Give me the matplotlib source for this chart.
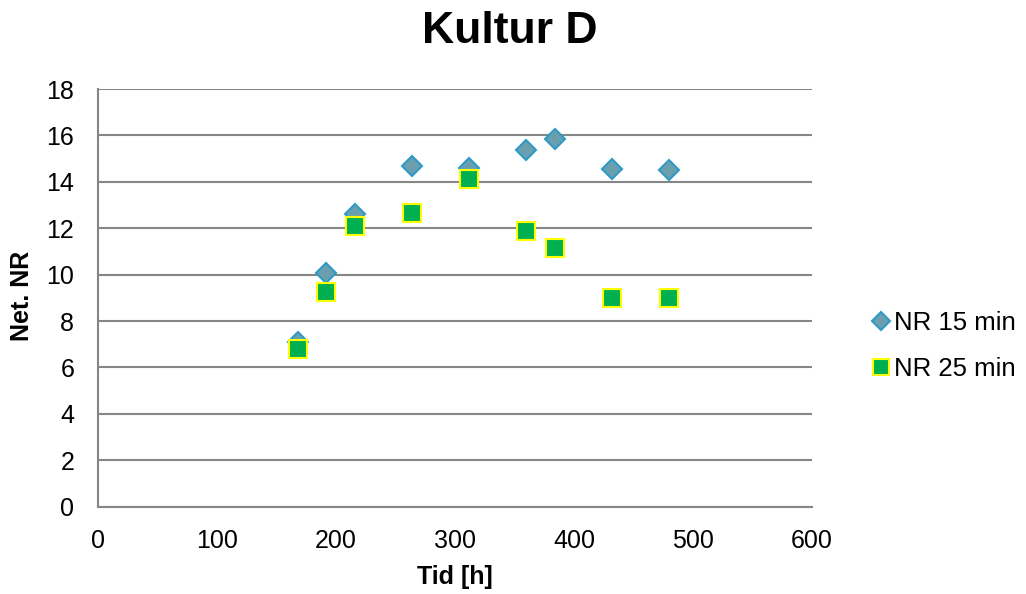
import matplotlib.pyplot as plt

plt.rcParams['font.family'] = ['Liberation Sans', 'DejaVu Sans']

# Tid [h]
tid = [168, 192, 216, 264, 312, 360, 384, 432, 480]
nr15 = [7.12, 10.08, 12.6, 14.69, 14.59, 15.37, 15.83, 14.55, 14.52]
nr25 = [6.79, 9.26, 12.12, 12.64, 14.11, 11.89, 11.13, 8.98, 8.98]

fig = plt.figure(figsize=(10.26, 5.94), dpi=100)
ax = fig.add_axes([0.0955, 0.147, 0.696, 0.703])

grid_col = '#868686'
ax.set_xlim(0, 600)
ax.set_ylim(0, 18)
ax.set_xticks(range(0, 601, 100))
ax.set_yticks(range(0, 19, 2))
ax.yaxis.grid(True, color=grid_col, linewidth=1.5)
ax.set_axisbelow(True)
for s in ['top', 'right']:
    ax.spines[s].set_visible(False)
for s in ['left', 'bottom']:
    ax.spines[s].set_color(grid_col)
    ax.spines[s].set_linewidth(1.5)
ax.tick_params(length=0, labelsize=18)
ax.tick_params(axis='y', pad=17)
ax.tick_params(axis='x', pad=16)

ax.plot(tid, nr15, linestyle='none', marker='D', markersize=10,
        markerfacecolor='#6A9FB0', markeredgecolor='#2E9AC4',
        markeredgewidth=1.5, label='NR 15 min')
ax.plot(tid, nr25, linestyle='none', marker='s', markersize=12.5,
        markerfacecolor='#00B050', markeredgecolor='#FFFF00',
        markeredgewidth=1.5, label='NR 25 min')

fig.text(0.497, 0.928, 'Kultur D', fontsize=32, fontweight='bold',
         ha='center', va='baseline')
fig.text(0.4435, 0.0286, 'Tid [h]', fontsize=18, fontweight='bold',
         ha='center', va='center')
fig.text(0.0219, 0.5017, 'Net. NR', fontsize=18, fontweight='bold',
         ha='center', va='center', rotation=90)

leg = ax.legend(loc='center left', bbox_to_anchor=(0.839, 0.418),
                bbox_transform=fig.transFigure, frameon=False, borderpad=0,
                fontsize=18.5, handlelength=0.6, handletextpad=0.2,
                labelspacing=0.85, markerscale=0.9)

fig.savefig('out.png', dpi=100)
